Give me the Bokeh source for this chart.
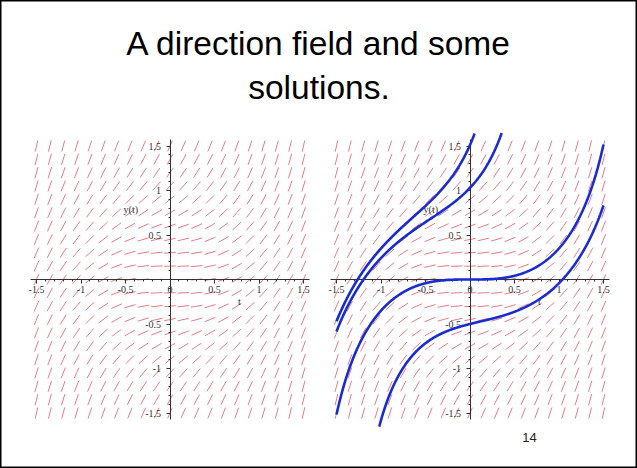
import math

from bokeh.plotting import figure
from bokeh.models import Range1d, LinearAxis, FixedTicker
from bokeh.core.properties import value
from bokeh.embed import file_html
from bokeh.resources import INLINE

# ---------------------------------------------------------------- content
TITLE_LINES = ["A direction field and some", "solutions."]
PAGE_NUMBER = "14"
T_LABEL = "t"
Y_LABEL = "y(t)"

# sample points of the direction field (same grid along t and y)
GRID_T = [-1.5, -1.35, -1.2, -1.05, -0.9, -0.75, -0.6, -0.45, -0.3, -0.15, 0.0,
          0.15, 0.3, 0.45, 0.6, 0.75, 0.9, 1.05, 1.2, 1.35, 1.5]
GRID_Y = [-1.5, -1.35, -1.2, -1.05, -0.9, -0.75, -0.6, -0.45, -0.3, -0.15, 0.0,
          0.15, 0.3, 0.45, 0.6, 0.75, 0.9, 1.05, 1.2, 1.35, 1.5]

X_TICKS = [-1.5, -1, -0.5, 0, 0.5, 1, 1.5]
X_TICK_LABELS = ["-1.5", "-1", "-0.5", "0", "0.5", "1", "1.5"]
Y_TICKS = [-1.5, -1, -0.5, 0.5, 1, 1.5]
Y_TICK_LABELS = ["-1.5", "-1", "-0.5", "0.5", "1", "1.5"]
MINOR_TICKS = [-1.5, -1.4, -1.3, -1.2, -1.1, -1.0, -0.9, -0.8, -0.7, -0.6, -0.5,
               -0.4, -0.3, -0.2, -0.1, 0.0, 0.1, 0.2, 0.3, 0.4, 0.5, 0.6, 0.7,
               0.8, 0.9, 1.0, 1.1, 1.2, 1.3, 1.4, 1.5]

# solution curves of y' = t^2 + y^2, each given by a point (t0, y0) it passes through
SOL_T0 = [0.0, 0.0, 0.0, -1.5]
SOL_Y0 = [0.0, -0.5, 1.03, -0.47]

T_LIMIT = 1.5
Y_LIMIT = 1.64


def slope(t, y):
    return t * t + y * y


def integrate(t0, y0, direction, h=0.004):
    """Classical RK4 from (t0, y0) until the window is left."""
    ts, ys = [t0], [y0]
    t, y = t0, y0
    h = h * direction
    while abs(t + h) <= T_LIMIT + 1e-9 and abs(y) <= Y_LIMIT:
        k1 = slope(t, y)
        k2 = slope(t + h / 2, y + h / 2 * k1)
        k3 = slope(t + h / 2, y + h / 2 * k2)
        k4 = slope(t + h, y + h * k3)
        y = y + h / 6 * (k1 + 2 * k2 + 2 * k3 + k4)
        t = t + h
        ts.append(t)
        ys.append(y)
    return ts, ys


def solution(t0, y0):
    tb, yb = integrate(t0, y0, -1)
    tf, yf = integrate(t0, y0, +1)
    return tb[::-1] + tf[1:], yb[::-1] + yf[1:]


# ---------------------------------------------------------------- layout
W, H = 637, 468
PX_PER_UNIT = 89.0
LEFT_CX, RIGHT_CX, PANEL_CY = 169.5, 469.5, 279.0
HALF_LEN = 0.065         # half length of a field mark, in data units

FIELD_COLOR = "#e03a48"
CURVE_COLOR = "#1a2bd2"
AXIS_COLOR = "#333333"
SERIF = "Liberation Serif"
SANS = "Liberation Sans"

p = figure(width=W, height=H, x_range=Range1d(0, W), y_range=Range1d(H, 0),
           x_axis_type=None, y_axis_type=None, toolbar_location=None,
           output_backend="svg", min_border=0,
           background_fill_color="white", border_fill_color="white",
           outline_line_color="black", outline_line_width=2)
p.grid.visible = False

p.extra_x_ranges = {
    "lx": Range1d(-LEFT_CX / PX_PER_UNIT, (W - LEFT_CX) / PX_PER_UNIT),
    "rx": Range1d(-RIGHT_CX / PX_PER_UNIT, (W - RIGHT_CX) / PX_PER_UNIT),
}
p.extra_y_ranges = {
    "ly": Range1d((PANEL_CY - H) / PX_PER_UNIT, PANEL_CY / PX_PER_UNIT),
}

# slide title and page number
p.text(x=[W / 2, W / 2], y=[43, 87], text=TITLE_LINES,
       text_font=value(SANS), text_font_size="33.5px", text_color="black",
       text_align="center", text_baseline="middle")
p.text(x=[529], y=[437], text=[PAGE_NUMBER], text_font=value(SANS),
       text_font_size="13px", text_color="#222222",
       text_align="center", text_baseline="middle")

# direction field marks
x0, y0, x1, y1 = [], [], [], []
for t in GRID_T:
    for y in GRID_Y:
        a = math.atan(slope(t, y))
        dx, dy = HALF_LEN * math.cos(a), HALF_LEN * math.sin(a)
        x0.append(t - dx)
        y0.append(y - dy)
        x1.append(t + dx)
        y1.append(y + dy)


def add_panel(xr):
    p.segment(x0=x0, y0=y0, x1=x1, y1=y1, x_range_name=xr, y_range_name="ly",
              line_color=FIELD_COLOR, line_width=0.9, line_alpha=0.75)

    common = dict(x_range_name=xr, y_range_name="ly", fixed_location=0,
                  bounds=(-1.57, 1.57),
                  axis_line_color=AXIS_COLOR, axis_line_width=1,
                  major_tick_line_color=AXIS_COLOR, minor_tick_line_color=AXIS_COLOR,
                  major_tick_in=0, major_tick_out=4,
                  minor_tick_in=0, minor_tick_out=2,
                  major_label_text_font=SERIF, major_label_text_font_size="10px",
                  major_label_text_color="#333333")
    xa = LinearAxis(ticker=FixedTicker(ticks=X_TICKS, minor_ticks=MINOR_TICKS),
                    major_label_overrides=dict(zip(X_TICKS, X_TICK_LABELS)),
                    major_label_standoff=2, **common)
    ya = LinearAxis(ticker=FixedTicker(ticks=Y_TICKS, minor_ticks=MINOR_TICKS),
                    major_label_overrides=dict(zip(Y_TICKS, Y_TICK_LABELS)),
                    major_label_standoff=5, **common)
    p.add_layout(xa, "below")
    p.add_layout(ya, "left")

    p.text(x=[0.78, -0.44], y=[-0.25, 0.79], text=[T_LABEL, Y_LABEL],
           x_range_name=xr, y_range_name="ly",
           text_font=value(SERIF), text_font_size="10px", text_color="#333333",
           text_align="center", text_baseline="middle")


add_panel("lx")
add_panel("rx")

for t0, yy0 in zip(SOL_T0, SOL_Y0):
    ts, ys = solution(t0, yy0)
    p.line(ts, ys, x_range_name="rx", y_range_name="ly",
           line_color=CURVE_COLOR, line_width=2.6, level="overlay")

open("out.html", "w").write(file_html(p, INLINE))
